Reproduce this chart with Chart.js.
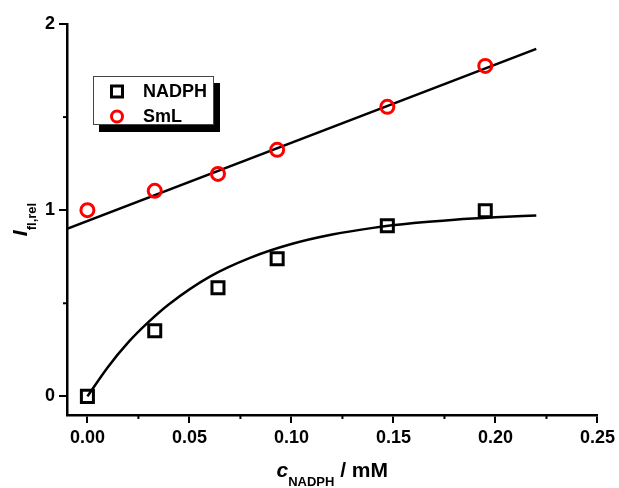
<!DOCTYPE html>
<html>
<head>
<meta charset="utf-8">
<script src="https://cdn.jsdelivr.net/npm/chart.js@4.4.0/dist/chart.umd.min.js"></script>
<style>
  body { margin: 0; background: #fff; }
</style>
</head>
<body>
<canvas id="myChart" width="619" height="488"></canvas>
<script>
// data
const conc = [0, 0.033, 0.064, 0.093, 0.147, 0.195];
const nadph = [0, 0.353, 0.583, 0.739, 0.916, 0.997];
const sml = [1.0, 1.104, 1.195, 1.324, 1.555, 1.775];

// fitted lines
const linFitX = [-0.01, 0.22];
const linFitY = [0.90, 1.866];
const expFitX = [0, 0.01, 0.02, 0.03, 0.04, 0.06, 0.08, 0.10, 0.12, 0.14, 0.16, 0.18, 0.20, 0.22];
const expFitY = [0, 0.157, 0.29, 0.40, 0.495, 0.643, 0.745, 0.818, 0.869, 0.905, 0.931, 0.949, 0.962, 0.972];

const xTicks = [0, 0.05, 0.10, 0.15, 0.20, 0.25];
const xMinor = [0.025, 0.075, 0.125, 0.175, 0.225];
const yTicks = [0, 1, 2];
const yMinor = [0.5, 1.5];

const FONT = '"Liberation Sans", Arial, sans-serif';
const pts = (xs, ys) => xs.map((x, i) => ({ x: x, y: ys[i] }));

const decor = {
    id: 'decor',
    afterDraw(chart) {
        const ctx = chart.ctx;
        const x = chart.scales.x, y = chart.scales.y;
        const area = chart.chartArea;
        ctx.save();
        // minor ticks
        ctx.strokeStyle = '#000';
        ctx.lineWidth = 2;
        xMinor.forEach(v => {
            const px = x.getPixelForValue(v);
            ctx.beginPath();
            ctx.moveTo(px, area.bottom);
            ctx.lineTo(px, area.bottom + 4);
            ctx.stroke();
        });
        yMinor.forEach(v => {
            const py = y.getPixelForValue(v);
            ctx.beginPath();
            ctx.moveTo(area.left, py);
            ctx.lineTo(area.left - 4, py);
            ctx.stroke();
        });

        // x title: c_NADPH / mM
        ctx.fillStyle = '#000';
        ctx.textBaseline = 'alphabetic';
        const xParts = [
            { t: 'c', f: 'italic bold 21px ' + FONT, dy: 0 },
            { t: 'NADPH', f: 'bold 13px ' + FONT, dy: 9 },
            { t: ' / mM', f: 'bold 21px ' + FONT, dy: 0 }
        ];
        let w = 0;
        xParts.forEach(p => { ctx.font = p.f; p.w = ctx.measureText(p.t).width; w += p.w; });
        let cx = (area.left + area.right) / 2 - w / 2;
        xParts.forEach(p => {
            ctx.font = p.f;
            ctx.fillText(p.t, cx, 477 + p.dy);
            cx += p.w;
        });

        // y title: I_fl,rel (rotated)
        const yParts = [
            { t: 'I', f: 'italic bold 21px ' + FONT, dy: 0 },
            { t: 'fl,rel', f: 'bold 13px ' + FONT, dy: 9 }
        ];
        w = 0;
        yParts.forEach(p => { ctx.font = p.f; p.w = ctx.measureText(p.t).width; w += p.w; });
        ctx.save();
        ctx.translate(27, (area.top + area.bottom) / 2);
        ctx.rotate(-Math.PI / 2);
        cx = -w / 2;
        yParts.forEach(p => {
            ctx.font = p.f;
            ctx.fillText(p.t, cx, p.dy);
            cx += p.w;
        });
        ctx.restore();

        // legend box with shadow
        ctx.fillStyle = '#000';
        ctx.fillRect(99, 83, 121, 49);
        ctx.fillStyle = '#fff';
        ctx.fillRect(93, 76, 121, 49);
        ctx.strokeStyle = '#444';
        ctx.lineWidth = 1;
        ctx.strokeRect(93.5, 76.5, 120, 48);

        ctx.strokeStyle = '#000';
        ctx.lineWidth = 3;
        ctx.strokeRect(111.5, 86, 11, 11);
        ctx.strokeStyle = '#ff0000';
        ctx.beginPath();
        ctx.arc(117, 116.5, 5.5, 0, Math.PI * 2);
        ctx.stroke();

        ctx.fillStyle = '#000';
        ctx.font = 'bold 18px ' + FONT;
        ctx.fillText('NADPH', 143, 97);
        ctx.fillText('SmL', 143, 122);
        ctx.restore();
    }
};

const ctx = document.getElementById('myChart').getContext('2d');
new Chart(ctx, {
    type: 'scatter',
    data: {
        datasets: [
            {
                label: 'NADPH',
                data: pts(conc, nadph),
                pointStyle: 'rect',
                pointRadius: 8.5,
                borderColor: '#000',
                backgroundColor: 'rgba(0,0,0,0)',
                borderWidth: 3,
                order: 0
            },
            {
                label: 'SmL',
                data: pts(conc, sml),
                pointStyle: 'circle',
                pointRadius: 6.5,
                borderColor: '#ff0000',
                backgroundColor: 'rgba(0,0,0,0)',
                borderWidth: 3,
                order: 1
            },
            {
                label: 'lin fit',
                data: pts(linFitX, linFitY),
                showLine: true,
                pointRadius: 0,
                borderColor: '#000',
                borderWidth: 2.5,
                order: 2
            },
            {
                label: 'exp fit',
                data: pts(expFitX, expFitY),
                showLine: true,
                cubicInterpolationMode: 'monotone',
                pointRadius: 0,
                borderColor: '#000',
                borderWidth: 2.5,
                order: 3
            }
        ]
    },
    options: {
        responsive: false,
        animation: false,
        layout: { padding: { top: 24, right: 20, left: 0, bottom: 0 } },
        plugins: {
            legend: { display: false },
            tooltip: { enabled: false }
        },
        scales: {
            x: {
                type: 'linear',
                min: -0.01,
                max: 0.25,
                afterBuildTicks: s => { s.ticks = xTicks.map(v => ({ value: v })); },
                afterFit: s => { s.height = 73; },
                ticks: {
                    callback: v => v.toFixed(2),
                    font: { family: FONT, size: 18, weight: 'bold' },
                    color: '#000',
                    padding: 4,
                    maxRotation: 0,
                    autoSkip: false
                },
                grid: { drawOnChartArea: false, drawTicks: true, tickLength: 8, color: '#000', lineWidth: 2 },
                border: { color: '#000', width: 2.5 }
            },
            y: {
                type: 'linear',
                min: -0.1,
                max: 2,
                afterBuildTicks: s => { s.ticks = yTicks.map(v => ({ value: v })); },
                afterFit: s => { s.width = 67; },
                ticks: {
                    callback: v => String(v),
                    font: { family: FONT, size: 18, weight: 'bold' },
                    color: '#000',
                    padding: 4
                },
                grid: { drawOnChartArea: false, drawTicks: true, tickLength: 8, color: '#000', lineWidth: 2 },
                border: { color: '#000', width: 2.5 }
            }
        }
    },
    plugins: [decor]
});
</script>
</body>
</html>
